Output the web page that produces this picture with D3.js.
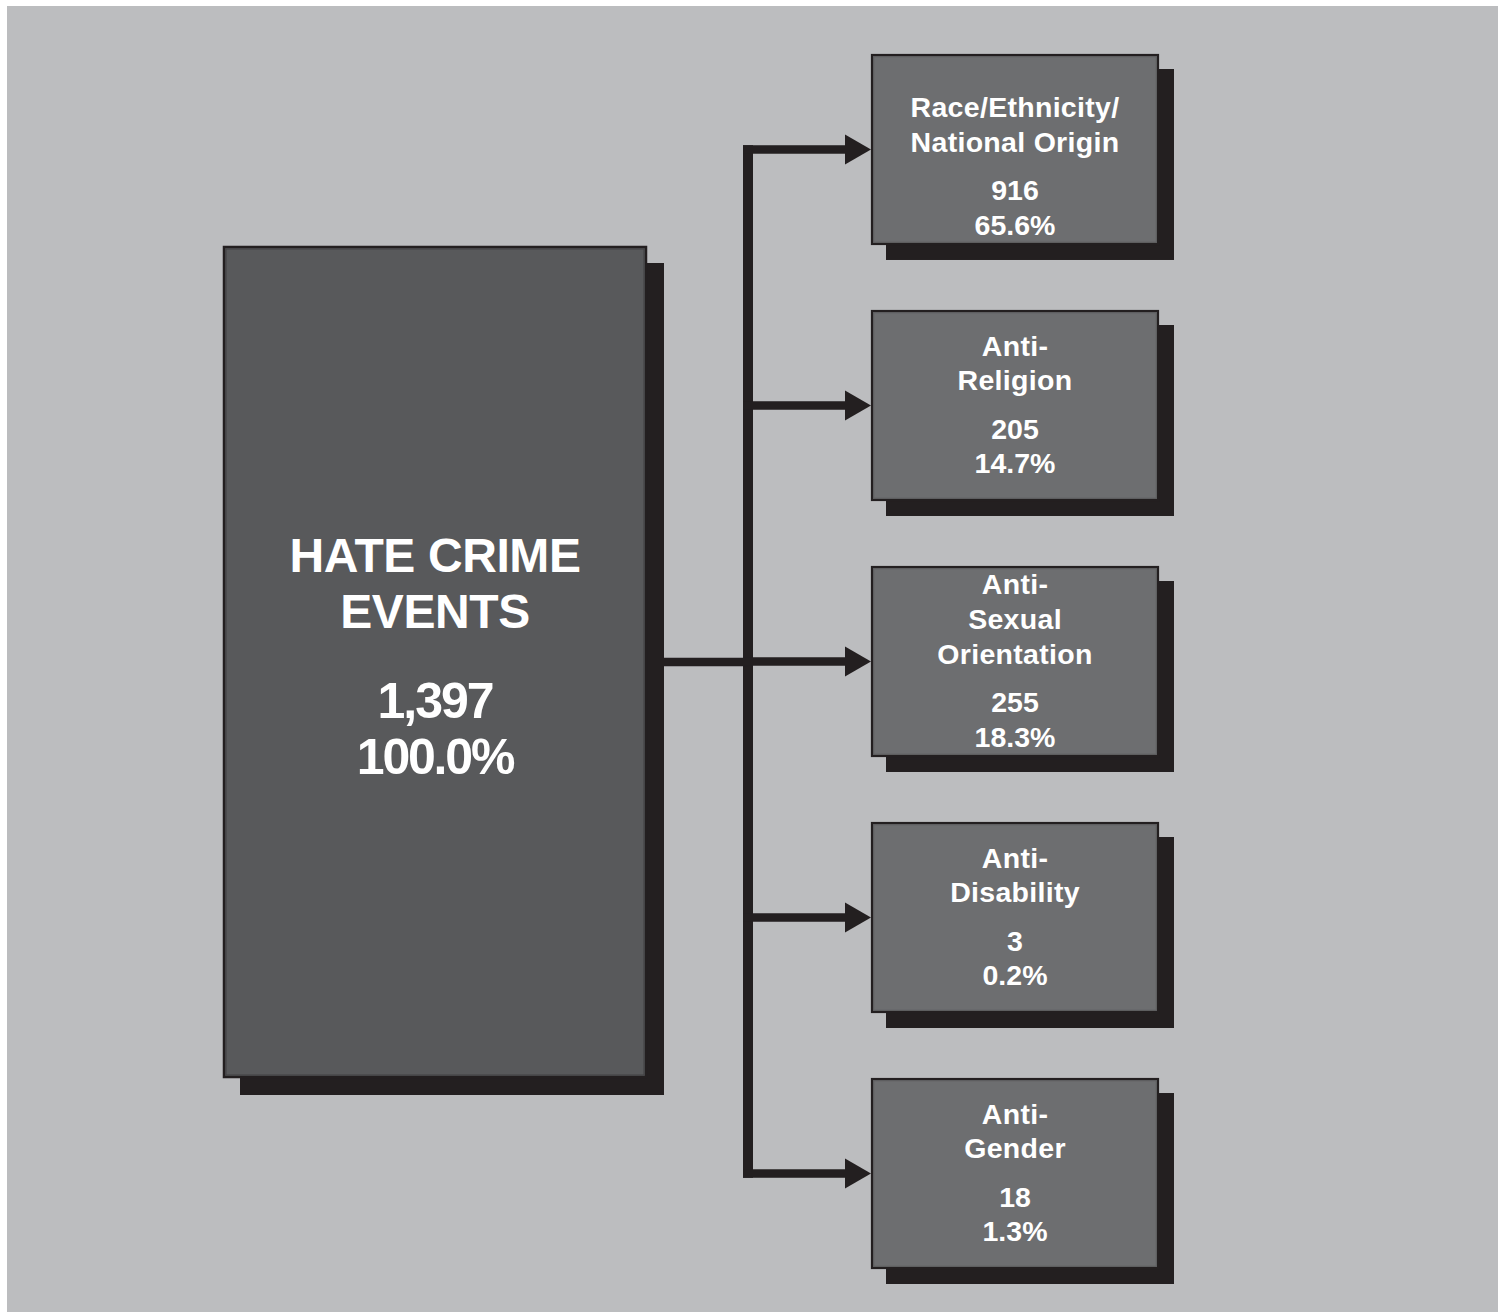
<!DOCTYPE html>
<html>
<head>
<meta charset="utf-8">
<script src="https://cdn.jsdelivr.net/npm/d3@7"></script>
<style>
  html, body { margin: 0; padding: 0; background: #ffffff; }
  svg { display: block; }
  text { font-family: "Liberation Sans", Arial, sans-serif; font-weight: bold; fill: #ffffff; }
</style>
</head>
<body>
<svg id="chart" width="1498" height="1312"></svg>
<script>
// ---- Data ----
const categories = ["Race/Ethnicity/National Origin", "Anti-Religion", "Anti-Sexual Orientation", "Anti-Disability", "Anti-Gender"];
const labelLines = [["", "Race/Ethnicity/", "National Origin"], ["Anti-", "Religion"], ["Anti-", "Sexual", "Orientation"], ["Anti-", "Disability"], ["Anti-", "Gender"]];
const counts = [916, 205, 255, 3, 18];
const percents = [65.6, 14.7, 18.3, 0.2, 1.3];
const totalLines = ["HATE CRIME", "EVENTS"];
const totalCount = 1397;
const totalPercent = 100.0;

// ---- Layout ----
const W = 1498, H = 1312;
const svg = d3.select("#chart");
const colors = { bg: "#bcbdbf", big: "#58595b", small: "#6d6e70", dark: "#231f20", inner: "#404042" };

const nodes = categories.map((c, i) => ({ name: c, lines: labelLines[i], count: counts[i], pct: percents[i] }));

const y = d3.scaleBand().domain(categories).range([54, 1269]).paddingInner(0.254).paddingOuter(0);
const bigY = d3.scaleLinear().domain([0, 1]).range([246, 1078]);
const bigX = d3.scaleLinear().domain([0, 1]).range([223, 647]);
const smallX = d3.scaleLinear().domain([0, 1]).range([871, 1159]);

const fmtInt = d3.format(",");
const fmtPct = d3.format(".1f");

// background
svg.append("rect").attr("x", 7).attr("y", 6).attr("width", W - 7).attr("height", H - 6).attr("fill", colors.bg);

// ---- Big box ----
const bx0 = bigX(0), bx1 = bigX(1), by0 = bigY(0), by1 = bigY(1);
const shadowBig = 17;
svg.append("rect").attr("x", bx0 + shadowBig).attr("y", by0 + shadowBig)
  .attr("width", bx1 - bx0).attr("height", by1 - by0).attr("fill", colors.dark);
svg.append("rect").attr("x", bx0 + 1).attr("y", by0 + 1)
  .attr("width", bx1 - bx0 - 2).attr("height", by1 - by0 - 2)
  .attr("fill", colors.big).attr("stroke", colors.dark).attr("stroke-width", 2.5);
svg.append("rect").attr("x", bx0 + 3).attr("y", by0 + 3)
  .attr("width", bx1 - bx0 - 6).attr("height", by1 - by0 - 6)
  .attr("fill", "none").attr("stroke", colors.inner).attr("stroke-width", 1);

const bcx = (bx0 + bx1) / 2, bcy = (by0 + by1) / 2;
const bigText = svg.append("g");
const bigOffsets = [-90.3, -33.7];
totalLines.forEach((t, i) => {
  bigText.append("text").attr("x", bcx).attr("y", bcy + bigOffsets[i])
    .attr("text-anchor", "middle").attr("font-size", 48).attr("letter-spacing", -0.4).text(t);
});
bigText.append("text").attr("x", bcx).attr("y", bcy + 55.5)
  .attr("text-anchor", "middle").attr("font-size", 50).attr("letter-spacing", -2).text(fmtInt(totalCount));
bigText.append("text").attr("x", bcx).attr("y", bcy + 111.5)
  .attr("text-anchor", "middle").attr("font-size", 50).attr("letter-spacing", -2.2).text(fmtPct(totalPercent) + "%");

// ---- Connectors ----
const spineX = 748, spineW = 10, armW = 8.5;
const arrowBase = 845, arrowTip = smallX(0), arrowHalf = 15;
const centers = nodes.map(d => y(d.name) + y.bandwidth() / 2);
const conn = svg.append("g").attr("fill", colors.dark);
// spine
conn.append("rect").attr("x", spineX - spineW / 2).attr("y", d3.min(centers) - armW / 2)
  .attr("width", spineW).attr("height", d3.max(centers) - d3.min(centers) + armW);
// trunk from big box
conn.append("rect").attr("x", bx1 + shadowBig).attr("y", bcy - armW / 2)
  .attr("width", spineX - (bx1 + shadowBig)).attr("height", armW);
// arms + arrowheads
conn.selectAll("rect.arm").data(centers).join("rect").attr("class", "arm")
  .attr("x", spineX - spineW / 2).attr("y", c => c - armW / 2)
  .attr("width", arrowBase - (spineX - spineW / 2) + 1).attr("height", armW);
conn.selectAll("path.head").data(centers).join("path").attr("class", "head")
  .attr("d", c => `M${arrowBase},${c - arrowHalf}L${arrowTip},${c}L${arrowBase},${c + arrowHalf}Z`);

// ---- Small boxes ----
const shadowSmall = 15;
const sx0 = smallX(0), sx1 = smallX(1), scx = (sx0 + sx1) / 2;
const g = svg.selectAll("g.node").data(nodes).join("g").attr("class", "node");
g.append("rect").attr("x", sx0 + shadowSmall).attr("y", d => y(d.name) + shadowSmall)
  .attr("width", sx1 - sx0).attr("height", y.bandwidth()).attr("fill", colors.dark);
g.append("rect").attr("x", sx0 + 1).attr("y", d => y(d.name) + 1)
  .attr("width", sx1 - sx0 - 2).attr("height", y.bandwidth() - 2)
  .attr("fill", colors.small).attr("stroke", colors.dark).attr("stroke-width", 2.2);
g.append("rect").attr("x", sx0 + 2.8).attr("y", d => y(d.name) + 2.8)
  .attr("width", sx1 - sx0 - 5.6).attr("height", y.bandwidth() - 5.6)
  .attr("fill", "none").attr("stroke", "#5a5a5c").attr("stroke-width", 0.8);

const capH = 20, lineH = 34.7, numGap = 48.5, pctGap = 34.5, fs = 28.5;
g.each(function(d) {
  const sel = d3.select(this);
  const n = d.lines.length;
  const blockH = capH + (n - 1) * lineH + numGap + pctGap;
  const cy = y(d.name) + y.bandwidth() / 2;
  const first = cy - blockH / 2 + capH - 1;
  d.lines.forEach((t, i) => {
    sel.append("text").attr("x", scx).attr("y", first + i * lineH)
      .attr("text-anchor", "middle").attr("font-size", fs).attr("letter-spacing", 0.3).text(t);
  });
  const nb = first + (n - 1) * lineH + numGap;
  sel.append("text").attr("x", scx).attr("y", nb).attr("text-anchor", "middle").attr("font-size", fs).text(fmtInt(d.count));
  sel.append("text").attr("x", scx).attr("y", nb + pctGap).attr("text-anchor", "middle").attr("font-size", fs).text(fmtPct(d.pct) + "%");
});
</script>
</body>
</html>
